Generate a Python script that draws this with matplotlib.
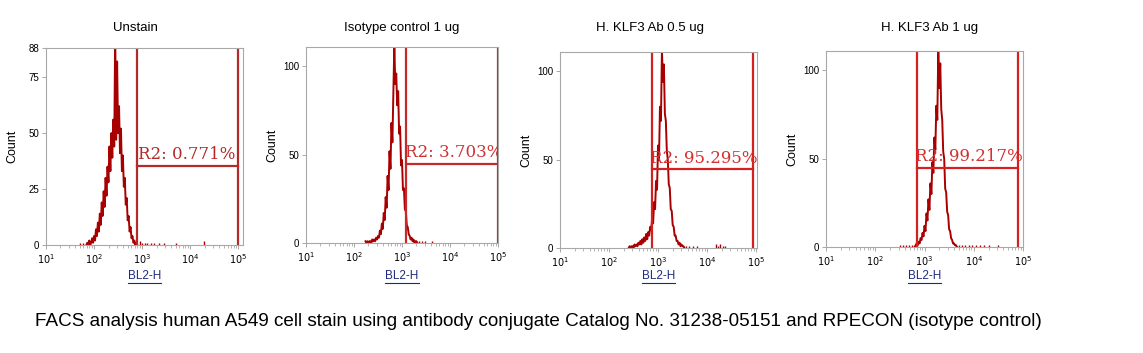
import numpy as np
import matplotlib
matplotlib.use("Agg")
import matplotlib.pyplot as plt
from matplotlib.lines import Line2D
from matplotlib.ticker import FixedLocator, NullFormatter

# panel text
titles = ["Unstain", "Isotype control 1 ug", "H. KLF3 Ab 0.5 ug", "H. KLF3 Ab 1 ug"]
gate_labels = ["R2: 0.771%", "R2: 3.703%", "R2: 95.295%", "R2: 99.217%"]
caption = ("FACS analysis human A549 cell stain using antibody conjugate "
           "Catalog No. 31238-05151 and RPECON (isotype control)")

# histogram channels: log10 of the first channel, channel step 0.02 decade
p1_log_start = 1.84
p1_counts = [0, 1, 0, 2, 0, 1, 3, 1, 4, 2, 7, 4, 10, 6, 14, 9, 19, 13, 24, 17,
             30, 22, 35, 28, 44, 33, 50, 39, 56, 44, 95, 47, 82, 50, 62, 41, 52, 33, 40, 26,
             30, 18, 21, 11, 13, 6, 8, 3, 4, 1, 2, 0, 1, 0]
p2_log_start = 2.24
p2_counts = [1, 0, 1, 0, 1, 1, 0, 2, 1, 2, 1, 3, 2, 4, 3, 7, 5, 11, 8, 17,
             13, 26, 20, 38, 30, 52, 42, 68, 57, 85, 112, 90, 96, 78, 86, 62, 66, 44, 47, 30,
             31, 19, 18, 10, 9, 5, 4, 2, 3, 1, 2, 0, 1, 1, 0]
p3_log_start = 2.40
p3_counts = [0, 1, 0, 1, 1, 0, 2, 1, 2, 1, 3, 2, 4, 2, 5, 3, 6, 4, 8, 5,
             9, 7, 12, 10, 17, 14, 26, 22, 38, 33, 58, 50, 80, 72, 112, 94, 104, 76, 72, 55,
             50, 36, 34, 22, 21, 13, 12, 7, 7, 4, 4, 2, 3, 1, 2, 1, 1, 0]
p4_log_start = 2.80
p4_counts = [0, 1, 2, 1, 3, 2, 5, 4, 8, 6, 12, 9, 19, 15, 27, 21, 36, 30, 48, 42,
             62, 55, 80, 72, 112, 90, 104, 78, 72, 54, 50, 33, 31, 20, 18, 10, 9, 5, 4, 2,
             2, 1, 1, 0]

# sparse single events outside the main peak (log10 channel, count)
p1_tail_log = [1.70, 1.78, 2.95, 3.00, 3.05, 3.10, 3.18, 3.25, 3.35, 3.45, 3.70, 4.28]
p1_tail_counts = [1, 1, 2, 1, 1, 1, 1, 1, 1, 1, 1, 2]
p2_tail_log = [3.36, 3.42, 3.48, 3.62]
p2_tail_counts = [1, 1, 1, 1]
p3_tail_log = [3.58, 3.64, 3.72, 3.80, 4.18, 4.22, 4.27, 4.32, 4.36]
p3_tail_counts = [1, 1, 1, 1, 2, 1, 2, 1, 1]
p4_tail_log = [2.50, 2.56, 2.62, 2.68, 2.74, 3.70, 3.76, 3.82, 3.90, 3.96, 4.05, 4.12, 4.20, 4.30, 4.50]
p4_tail_counts = [1, 1, 1, 1, 1, 1, 1, 1, 1, 1, 1, 1, 1, 1, 1]

# R2 gate: low / high channel and the marker height (count)
gate_lo = [794, 1200, 760, 690]
gate_hi = [98000, 100000, 87000, 78000]
gate_y = [35.4, 45.0, 44.7, 45.0]

ymax = [88, 111, 111, 111]
yticks = [[0, 25, 50, 75, 88], [0, 50, 100], [0, 50, 100], [0, 50, 100]]
xmax_log = [5.1, 5.0, 5.02, 5.0]

hist_data = [(p1_log_start, p1_counts, p1_tail_log, p1_tail_counts),
             (p2_log_start, p2_counts, p2_tail_log, p2_tail_counts),
             (p3_log_start, p3_counts, p3_tail_log, p3_tail_counts),
             (p4_log_start, p4_counts, p4_tail_log, p4_tail_counts)]

W, H = 1143, 353
fig = plt.figure(figsize=(W / 100, H / 100), dpi=100)
fig.patch.set_facecolor("white")

# axes boxes in pixels: left, top, right, bottom
boxes = [(46, 48, 243, 245), (306, 47, 498, 243), (560, 52, 757, 248), (826, 51, 1023, 247)]
title_x = [135, 402, 650, 930]
gate_col = ["#b22a2a", "#c42a2a", "#d42020", "#d42020"]
label_col = ["#b22a2a", "#cc3333", "#d43030", "#d43030"]
label_x = [830, 1150, 690, 640]
hist_col = "#a80000"
frame_col = "#a8a8a8"

blabels = []
for i in range(4):
    l, t, r, b = boxes[i]
    ax = fig.add_axes([l / W, 1 - b / H, (r - l) / W, (b - t) / H])
    start, counts, tlog, tcnt = hist_data[i]
    chan = 10 ** (start + 0.02 * np.arange(len(counts)))
    ax.plot(chan, counts, color=hist_col, lw=1.4)
    ax.vlines(10 ** np.array(tlog), 0, tcnt, color=hist_col, lw=1.0)

    ax.set_xscale("log")
    ax.set_xlim(10, 10 ** xmax_log[i])
    ax.set_ylim(0, ymax[i])

    # gate
    ax.plot([gate_lo[i], gate_lo[i]], [0, ymax[i]], color=gate_col[i], lw=1.6)
    ax.plot([gate_hi[i], gate_hi[i]], [0, ymax[i]], color=gate_col[i], lw=1.6)
    ax.plot([gate_lo[i], gate_hi[i]], [gate_y[i], gate_y[i]], color=gate_col[i], lw=1.6)
    ax.text(label_x[i], gate_y[i] + 1.2, gate_labels[i], color=label_col[i],
            fontsize=12, family="DejaVu Serif", va="bottom", ha="left", clip_on=True)

    for s in ax.spines.values():
        s.set_color(frame_col)
        s.set_linewidth(0.8)

    ax.xaxis.set_major_locator(FixedLocator([10, 100, 1000, 10000, 100000]))
    ax.xaxis.set_minor_locator(FixedLocator([m * 10 ** d for d in range(1, 5) for m in range(2, 10)]))
    ax.xaxis.set_minor_formatter(NullFormatter())
    ax.set_xticklabels(["$10^{%d}$" % k for k in range(1, 6)])
    ax.set_yticks(yticks[i])
    ax.tick_params(axis="both", which="major", labelsize=7, color=frame_col, length=3, width=0.7, pad=2)
    ax.tick_params(axis="x", which="minor", color=frame_col, length=2, width=0.6)
    for lab in ax.get_xticklabels() + ax.get_yticklabels():
        lab.set_family("Liberation Sans")

    cx = (l + r) / 2
    fig.text(title_x[i] / W, 1 - 28 / H, titles[i], ha="center", va="center",
             fontsize=9.5, family="Liberation Sans")
    fig.text((l - 34) / W, 1 - (t + b) / 2 / H, "Count", rotation=90, ha="center",
             va="center", fontsize=9, family="Liberation Sans")
    bl = fig.text(cx / W, 1 - 276 / H, "BL2-H", ha="center", va="center",
                  fontsize=8.5, family="Liberation Sans", color="#1c2a80")
    blabels.append(bl)

fig.text(35 / W, 1 - 321 / H, caption, ha="left", va="center", fontsize=13.6,
         family="Liberation Sans")

# underline the axis names
fig.canvas.draw()
rend = fig.canvas.get_renderer()
for bl in blabels:
    bb = bl.get_window_extent(rend)
    y = (bb.y0 - 1) / H
    fig.add_artist(Line2D([bb.x0 / W, bb.x1 / W], [y, y], color="#1c2a80", lw=0.8))

fig.savefig("out.png", dpi=100, facecolor="white")
